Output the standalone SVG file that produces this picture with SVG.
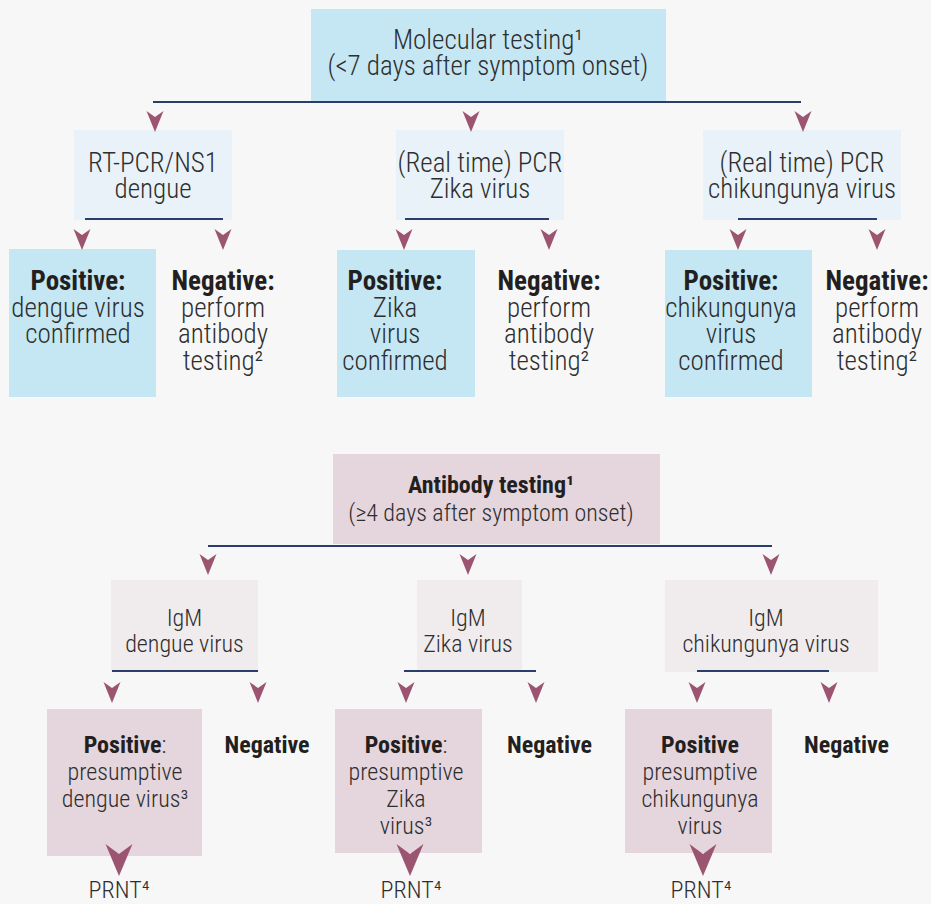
<svg xmlns="http://www.w3.org/2000/svg" xmlns:xlink="http://www.w3.org/1999/xlink" width="931" height="904" viewBox="0 0 931 904">
<defs>
<style>
text{font-family:Roboto,"Liberation Sans",sans-serif;font-size:27px;font-weight:300;font-stretch:condensed;fill:#2e2e2e;text-anchor:middle}
.s{font-size:24px}
.b{font-weight:700;fill:#231f20}
.blue{fill:#c5e7f3}
.lblue{fill:#e8f2f8}
.pink{fill:#e5d5dd}
.lpink{fill:#f0ebed}
.ln{stroke:#2b3d6b;stroke-width:2;fill:none}
.ah{fill:#9c5570}
</style>
<path id="a" d="M-8.5,0 L0,6 L8.5,0 L0,21Z"/>
<path id="A" d="M-13.5,0 L0,10 L13.5,0 L0,32Z"/>
</defs>
<rect width="931" height="904" fill="#f7f7f7"/>

<g id="molecular">
<rect class="blue" x="311" y="9" width="355" height="92"/>
<text x="488" y="49">Molecular testing¹<tspan x="488" dy="26">(&lt;7 days after symptom onset)</tspan></text>
</g>
<g id="rtpcr-dengue">
<rect class="lblue" x="74" y="130" width="158" height="90"/>
<text x="153" y="172">RT-PCR/NS1<tspan x="153" dy="26">dengue</tspan></text>
</g>
<g id="pcr-zika">
<rect class="lblue" x="396" y="130" width="168" height="90"/>
<text x="480" y="172">(Real time) PCR<tspan x="480" dy="26">Zika virus</tspan></text>
</g>
<g id="pcr-chik">
<rect class="lblue" x="703" y="130" width="198" height="90"/>
<text x="802" y="172">(Real time) PCR<tspan x="802" dy="26">chikungunya virus</tspan></text>
</g>
<g id="pos-dengue">
<rect class="blue" x="9" y="249" width="147" height="148"/>
<text x="78" y="290"><tspan class="b">Positive:</tspan><tspan x="78" dy="26.7">dengue virus</tspan><tspan x="78" dy="26.7">confirmed</tspan></text>
</g>
<g id="neg-dengue">
<text x="223" y="290"><tspan class="b">Negative:</tspan><tspan x="223" dy="26.7">perform</tspan><tspan x="223" dy="26.7">antibody</tspan><tspan x="223" dy="26.7">testing²</tspan></text>
</g>
<g id="pos-zika">
<rect class="blue" x="337" y="250" width="138" height="147"/>
<text x="395" y="290"><tspan class="b">Positive:</tspan><tspan x="395" dy="26.7">Zika</tspan><tspan x="395" dy="26.7">virus</tspan><tspan x="395" dy="26.7">confirmed</tspan></text>
</g>
<g id="neg-zika">
<text x="549" y="290"><tspan class="b">Negative:</tspan><tspan x="549" dy="26.7">perform</tspan><tspan x="549" dy="26.7">antibody</tspan><tspan x="549" dy="26.7">testing²</tspan></text>
</g>
<g id="pos-chik">
<rect class="blue" x="665" y="250" width="147" height="147"/>
<text x="731" y="290"><tspan class="b">Positive:</tspan><tspan x="731" dy="26.7">chikungunya</tspan><tspan x="731" dy="26.7">virus</tspan><tspan x="731" dy="26.7">confirmed</tspan></text>
</g>
<g id="neg-chik">
<text x="877" y="290"><tspan class="b">Negative:</tspan><tspan x="877" dy="26.7">perform</tspan><tspan x="877" dy="26.7">antibody</tspan><tspan x="877" dy="26.7">testing²</tspan></text>
</g>

<g id="antibody">
<rect class="pink" x="333" y="454" width="327" height="90"/>
<text class="s" x="491" y="493"><tspan class="b">Antibody testing¹</tspan><tspan x="491" dy="28">(≥4 days after symptom onset)</tspan></text>
</g>
<g id="igm-dengue">
<rect class="lpink" x="111" y="580" width="147" height="91"/>
<text class="s" x="184.5" y="626">IgM<tspan x="184.5" dy="26">dengue virus</tspan></text>
</g>
<g id="igm-zika">
<rect class="lpink" x="417" y="580" width="105" height="91"/>
<text class="s" x="468" y="626">IgM<tspan x="468" dy="26">Zika virus</tspan></text>
</g>
<g id="igm-chik">
<rect class="lpink" x="665" y="580" width="213" height="92"/>
<text class="s" x="766" y="626">IgM<tspan x="766" dy="26">chikungunya virus</tspan></text>
</g>
<g id="ppos-dengue">
<rect class="pink" x="47" y="709" width="155" height="147"/>
<text class="s" x="125" y="753"><tspan class="b">Positive</tspan>:<tspan x="125" dy="27">presumptive</tspan><tspan x="125" dy="27">dengue virus³</tspan></text>
</g>
<g id="pneg-dengue">
<text class="s b" x="267" y="753">Negative</text>
</g>
<g id="ppos-zika">
<rect class="pink" x="335" y="709" width="147" height="144"/>
<text class="s" x="406" y="753"><tspan class="b">Positive</tspan>:<tspan x="406" dy="27">presumptive</tspan><tspan x="406" dy="27">Zika</tspan><tspan x="406" dy="27">virus³</tspan></text>
</g>
<g id="pneg-zika">
<text class="s b" x="549.5" y="753">Negative</text>
</g>
<g id="ppos-chik">
<rect class="pink" x="625" y="709" width="147" height="144"/>
<text class="s" x="700" y="753"><tspan class="b">Positive</tspan><tspan x="700" dy="27">presumptive</tspan><tspan x="700" dy="27">chikungunya</tspan><tspan x="700" dy="27">virus</tspan></text>
</g>
<g id="pneg-chik">
<text class="s b" x="846.5" y="753">Negative</text>
</g>
<g id="prnt-dengue"><text class="s" x="119" y="898">PRNT⁴</text></g>
<g id="prnt-zika"><text class="s" x="411" y="898">PRNT⁴</text></g>
<g id="prnt-chik"><text class="s" x="701" y="898">PRNT⁴</text></g>

<g id="connectors">
<path class="ln" d="M153,102H801 M85,219H223 M405,219H549 M738,219H877 M208,546H772 M112,671H258 M404,671H536 M697,671H829"/>
<g class="ah">
<use href="#a" x="155" y="111"/><use href="#a" x="471" y="111"/><use href="#a" x="803" y="111"/>
<use href="#a" x="82" y="229"/><use href="#a" x="223" y="229"/>
<use href="#a" x="404" y="229"/><use href="#a" x="549" y="229"/>
<use href="#a" x="738" y="229"/><use href="#a" x="877" y="229"/>
<use href="#a" x="208" y="554"/><use href="#a" x="468" y="554"/><use href="#a" x="771" y="554"/>
<use href="#a" x="112" y="682"/><use href="#a" x="258" y="682"/>
<use href="#a" x="406" y="682"/><use href="#a" x="536" y="682"/>
<use href="#a" x="697" y="682"/><use href="#a" x="829" y="682"/>
<use href="#A" x="119" y="844"/><use href="#A" x="410" y="844"/><use href="#A" x="703" y="844"/>
</g>
</g>
</svg>
